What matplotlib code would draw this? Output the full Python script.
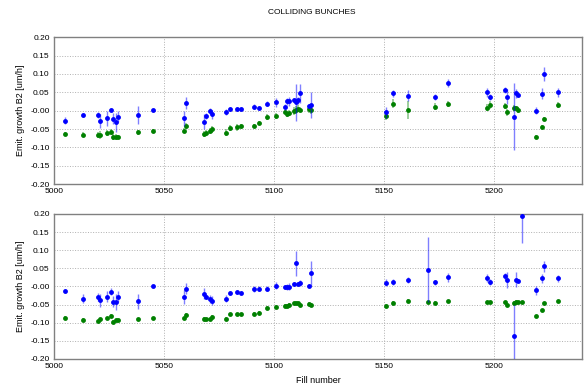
import numpy as np
import matplotlib
matplotlib.use("Agg")
import matplotlib.pyplot as plt

plt.rcParams['font.family'] = ['Liberation Sans', 'DejaVu Sans']
plt.rcParams['font.size'] = 6

fills = np.array([5005, 5013, 5020, 5021, 5024, 5026, 5027, 5028, 5029, 5038,
                  5045, 5059, 5060, 5068, 5069, 5071, 5072, 5078, 5080, 5083,
                  5085, 5091, 5093, 5097, 5101, 5105, 5106, 5107, 5109, 5110,
                  5111, 5112, 5116, 5117, 5151, 5154, 5161, 5170, 5173, 5179,
                  5197, 5198, 5205, 5206, 5209, 5210, 5211, 5213, 5219, 5222,
                  5223, 5229])

nan = np.nan

# upper panel: blue / green series with their errors
b_top = [-0.027, -0.012, -0.013, -0.028, -0.021, 0.001, -0.022, -0.032, -0.016, -0.012,
         0.001, -0.021, 0.021, -0.030, -0.014, -0.002, -0.010, -0.004, 0.005, 0.005,
         0.005, 0.011, 0.008, 0.019, 0.023, 0.009, 0.025, 0.025, 0.029, 0.023,
         0.028, 0.047, 0.012, 0.015, -0.005, 0.047, 0.040, nan, 0.038, 0.075,
         0.050, 0.038, 0.055, 0.038, -0.016, 0.047, 0.042, nan, 0.000, 0.046,
         0.100, 0.050]
b_top_err = [0.010, 0.006, 0.008, 0.020, 0.020, 0.006, 0.015, 0.025, 0.016, 0.024,
             0.003, 0.020, 0.016, 0.020, 0.008, 0.008, 0.012, 0.008, 0.005, 0.005,
             0.004, 0.006, 0.004, 0.006, 0.012, 0.008, 0.010, 0.012, 0.005, 0.050,
             0.010, 0.025, 0.006, 0.035, 0.015, 0.010, 0.015, nan, 0.008, 0.012,
             0.012, 0.008, 0.008, 0.020, 0.090, 0.012, 0.006, nan, 0.010, 0.015,
             0.020, 0.012]
g_top = [-0.063, -0.065, -0.066, -0.066, -0.060, -0.057, -0.072, -0.072, -0.072, -0.059,
         -0.055, -0.054, -0.041, -0.064, -0.060, -0.055, -0.051, -0.060, -0.046, -0.045,
         -0.043, -0.042, -0.033, -0.018, -0.015, -0.004, -0.008, -0.006, -0.001, 0.002,
         0.005, 0.003, 0.004, 0.001, -0.014, 0.019, 0.002, nan, 0.011, 0.017,
         0.008, 0.015, 0.012, -0.005, 0.007, 0.007, 0.001, nan, -0.071, -0.045,
         -0.023, 0.015]
g_top_err = [0.006, 0.008, 0.008, 0.010, 0.008, 0.008, 0.008, 0.008, 0.006, 0.006,
             0.005, 0.006, 0.008, 0.008, 0.008, 0.008, 0.010, 0.010, 0.008, 0.010,
             0.006, 0.006, 0.006, 0.008, 0.008, 0.006, 0.008, 0.008, 0.010, 0.012,
             0.010, 0.008, 0.010, 0.010, 0.012, 0.012, 0.025, nan, 0.010, 0.008,
             0.010, 0.010, 0.008, 0.010, 0.008, 0.006, 0.008, nan, 0.006, 0.006,
             0.006, 0.008]

# lower panel
b_bot = [-0.013, -0.034, -0.029, -0.038, -0.029, -0.015, -0.042, -0.044, -0.029, -0.041,
         0.001, -0.029, -0.006, -0.020, -0.029, -0.035, -0.039, -0.034, -0.018, -0.016,
         -0.018, -0.007, -0.006, -0.006, 0.002, -0.001, -0.001, -0.001, 0.008, 0.064,
         0.006, 0.010, 0.002, 0.036, 0.010, 0.012, 0.018, 0.046, 0.011, 0.025,
         0.023, 0.013, 0.028, 0.018, -0.136, 0.019, 0.016, 0.194, -0.011, 0.022,
         0.055, 0.022]
b_bot_err = [0.006, 0.012, 0.012, 0.018, 0.015, 0.010, 0.015, 0.022, 0.015, 0.020,
             0.003, 0.020, 0.016, 0.016, 0.006, 0.012, 0.012, 0.010, 0.005, 0.006,
             0.004, 0.008, 0.006, 0.006, 0.010, 0.006, 0.008, 0.010, 0.004, 0.034,
             0.006, 0.008, 0.004, 0.034, 0.010, 0.008, 0.008, 0.090, 0.008, 0.012,
             0.010, 0.008, 0.010, 0.022, 0.085, 0.020, 0.004, 0.073, 0.012, 0.012,
             0.016, 0.010]
g_bot = [-0.086, -0.093, -0.096, -0.091, -0.088, -0.082, -0.097, -0.094, -0.093, -0.090,
         -0.088, -0.088, -0.078, -0.090, -0.090, -0.091, -0.084, -0.089, -0.076, -0.077,
         -0.076, -0.076, -0.072, -0.059, -0.056, -0.053, -0.054, -0.050, -0.046, -0.046,
         -0.047, -0.050, -0.048, -0.052, -0.053, -0.045, -0.040, -0.043, -0.045, -0.041,
         -0.043, -0.043, -0.043, -0.051, -0.045, -0.042, -0.043, -0.044, -0.082, -0.066,
         -0.046, -0.041]
g_bot_err = [0.004, 0.005, 0.004, 0.005, 0.005, 0.006, 0.004, 0.004, 0.004, 0.004,
             0.004, 0.005, 0.005, 0.005, 0.004, 0.004, 0.005, 0.005, 0.004, 0.004,
             0.004, 0.005, 0.004, 0.004, 0.004, 0.005, 0.006, 0.004, 0.004, 0.004,
             0.004, 0.004, 0.004, 0.004, 0.004, 0.006, 0.006, 0.004, 0.004, 0.004,
             0.004, 0.004, 0.004, 0.005, 0.004, 0.004, 0.004, 0.004, 0.004, 0.004,
             0.004, 0.004]

fig = plt.figure(figsize=(5.86, 3.91), dpi=100)
ax1 = fig.add_axes([0.092, 0.529, 0.901, 0.376])
ax2 = fig.add_axes([0.092, 0.082, 0.901, 0.371])

for ax, b, be, g, ge in [(ax1, b_top, b_top_err, g_top, g_top_err),
                         (ax2, b_bot, b_bot_err, g_bot, g_bot_err)]:
    ax.errorbar(fills, g, yerr=ge, fmt='o', color='g', ms=3.5, mew=0,
                ecolor=(0, 0.5, 0, 0.45), elinewidth=1.2, zorder=3)
    ax.errorbar(fills, b, yerr=be, fmt='o', color='b', ms=3.5, mew=0,
                ecolor=(0, 0, 1, 0.5), elinewidth=1.0, zorder=4)
    ax.set_xlim(5000, 5240)
    ax.set_ylim(-0.2, 0.2)
    ax.set_xticks([5000, 5050, 5100, 5150, 5200])
    ax.set_yticks(np.arange(-0.2, 0.201, 0.05))
    ax.yaxis.set_major_formatter(matplotlib.ticker.FormatStrFormatter('%.2f'))
    ax.grid(True, linestyle=':', color='#b0b0b0', linewidth=0.7)
    ax.tick_params(length=0, pad=3, labelsize=6)
    for s in ax.spines.values():
        s.set_color('#808080')
        s.set_linewidth(1.0)
    ax.set_ylabel('Emit. growth B2 [um/h]', fontsize=6.5, labelpad=4)

ax2.set_xlabel('Fill number', fontsize=6.5, labelpad=4)
fig.text(0.532, 0.967, 'COLLIDING BUNCHES', ha='center', va='center', fontsize=6)

fig.savefig('out.png', dpi=100)
